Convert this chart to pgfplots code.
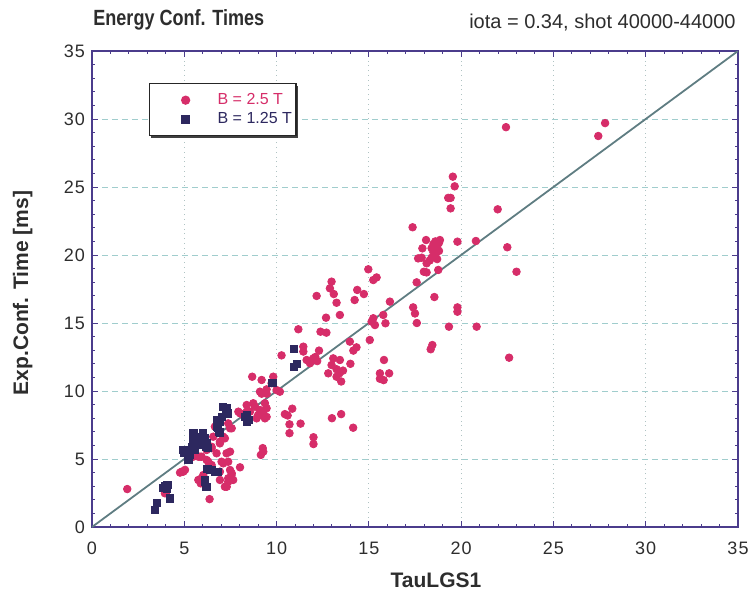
\documentclass[border=0pt]{standalone}
\usepackage{fontspec}
\setmainfont{Liberation Sans}
\newfontfamily\titlefont[FakeStretch=0.82]{Liberation Sans}
\newfontfamily\tickfont[LetterSpace=6]{Liberation Sans}
\usepackage{pgfplots}
\pgfplotsset{compat=1.18}
\usetikzlibrary{shadows}
\definecolor{axcol}{RGB}{75,60,140}
\definecolor{gridcol}{RGB}{160,205,205}
\definecolor{vgridcol}{RGB}{175,195,195}
\definecolor{redpt}{RGB}{214,45,105}
\definecolor{navypt}{RGB}{45,40,95}
\definecolor{diagcol}{RGB}{95,125,130}
\definecolor{txtcol}{RGB}{45,45,45}
\begin{document}
\begin{tikzpicture}
\begin{axis}[
  at={(0,0)}, anchor=south west,
  scale only axis, width=323pt, height=238pt,
  xmin=0, xmax=35, ymin=0, ymax=35,
  xtick={0,5,...,35}, ytick={0,5,...,35},
  minor tick num=4,
  tick align=inside,
  major tick length=3pt, minor tick length=1.5pt,
  axis line style={axcol, line width=0.9pt},
  every tick/.style={axcol, line width=0.5pt},
  grid=major,
  x grid style={vgridcol, dotted, line width=0.6pt},
  y grid style={gridcol, densely dashed, line width=0.5pt},
  ticklabel style={font=\tickfont\fontsize{9}{10}\selectfont, text=txtcol},
  xticklabel style={yshift=-4pt},
  /pgf/number format/assume math mode=true,
  legend style={at={(0.088,0.933)}, anchor=north west, draw=black!85, line width=0.8pt,
    inner xsep=0pt, inner ysep=3.5pt, font=\fontsize{8}{9}\selectfont,
    nodes={inner ysep=1.2pt},
    drop shadow={shadow xshift=0.8pt, shadow yshift=-1.2pt, fill=black!75, opacity=1},
    row sep=0pt},
  legend cell align=left,
  legend image code/.code={\pgfpathmoveto{\pgfqpoint{0pt}{0pt}}\pgfpathlineto{\pgfqpoint{32pt}{0pt}}\pgfusepath{discard}\draw[mark repeat=2, mark phase=2, #1] plot coordinates {(0pt,0pt) (18pt,0pt) (36pt,0pt)};},
]
\addplot[only marks, mark=*, mark size=1.9pt, color=redpt, mark options={draw=redpt, fill=redpt}] coordinates {
(22.43,29.4) (27.43,28.75) (27.8,29.7) (19.55,25.76) (19.65,25.05) (19.3,24.2) (19.43,24.2)
(19.43,23.43) (21.98,23.36) (17.37,22.04) (18.1,21.1) (17.9,20.49) (17.67,19.75) (17.86,19.8)
(17.98,18.77) (18.13,18.72) (17.59,17.99) (18.13,19.39) (18.76,18.9)
(18.4,20.5) (18.5,20.8) (18.6,21.0) (18.7,20.6) (18.8,20.9) (18.5,20.2) (18.6,20.0) (18.8,20.3)
(18.4,19.8) (18.3,19.6) (18.7,19.7) (18.85,21.1) (18.55,20.45)
(19.8,20.98) (20.8,21.03) (22.5,20.57) (23.0,18.77) (18.55,16.91) (17.4,16.15) (17.5,15.7)
(17.6,15.0) (19.8,16.15) (19.8,15.83) (19.34,14.73) (20.84,14.73) (18.44,13.38) (18.35,13.07)
(22.6,12.45)
(14.97,18.95) (15.24,18.16) (15.42,18.35) (12.98,18.04) (12.89,17.55) (13.1,17.13) (12.17,16.99)
(14.37,17.43) (14.73,17.13) (14.23,16.69) (13.25,16.49) (16.14,16.57) (12.68,15.39) (13.43,15.59)
(15.24,15.35) (15.33,14.85) (15.15,15.1) (15.78,15.59) (15.9,14.98) (11.18,14.54) (12.38,14.36)
(12.7,14.29) (15.05,13.75) (13.97,13.63) (14.33,13.21) (14.16,12.97) (11.45,13.26) (11.45,12.9)
(12.3,12.97) (12.1,12.5) (12.2,12.2) (10.27,12.62) (11.63,12.28) (11.99,12.4) (11.81,12.04)
(13.07,12.4) (13.43,12.28) (12.98,11.91) (15.82,12.28) (14.0,12.0) (12.8,11.3)
(13.25,11.6) (13.4,11.3) (13.25,11.05) (13.5,10.7) (13.6,11.5)
(15.6,11.3) (16.1,11.3) (15.6,10.9) (15.8,10.8)
(8.68,11.05) (9.19,10.81) (9.82,11.05) (9.73,10.57)
(9.1,9.95) (9.46,10.12) (10.0,10.07) (10.18,9.95) (9.19,9.8) (9.46,9.8)
(8.38,8.97) (8.83,8.85) (8.56,8.48) (9.0,8.24) (9.28,8.36) (9.37,7.99) (8.92,7.99) (9.46,8.73) (8.38,7.87)
(8.74,9.1) (9.1,8.6) (9.37,9.1) (9.19,8.24) (9.46,8.1) (7.93,8.48) (8.2,8.24) (8.38,8.48) (8.02,8.36)
(10.45,8.3) (10.6,8.2) (10.85,8.7) (10.7,7.55) (10.7,6.9) (11.3,7.6) (13.0,8.0) (13.5,8.3)
(14.15,7.3) (12.0,6.6) (12.0,6.1) (9.25,5.8) (9.15,5.3) (9.28,5.54)
(7.38,7.62) (7.57,7.26) (7.48,7.26) (7.2,6.52) (6.93,6.27) (6.66,7.38) (6.57,6.64)
(6.93,6.15) (7.11,6.64) (6.21,5.66) (6.48,5.9)
(6.48,5.79) (6.75,5.42) (5.94,5.17) (6.21,4.93) (5.85,5.17) (5.49,5.17)
(7.48,5.54) (7.29,5.42) (7.02,4.8) (7.38,4.8) (8.02,4.39) (7.57,3.95)
(7.11,4.68) (7.48,4.19) (6.93,4.07) (6.3,4.8) (6.48,4.56)
(7.56,3.82) (7.65,3.46) (7.38,3.33) (7.38,3.58) (6.93,3.46) (7.2,2.96) (7.3,2.96)
(6.03,3.82) (5.76,3.46) (5.89,3.21) (5.94,3.58)
(4.86,4.07) (5.04,4.2) (4.77,4.0) (4.95,4.07)
(6.37,2.05) (3.95,2.48) (4.0,2.5) (5.49,5.29) (5.76,5.17) (1.91,2.79)
};
\addlegendentry{\textcolor{redpt}{B = 2.5 T}}
\addplot[only marks, mark=square*, mark size=1.8pt, color=navypt, mark options={draw=navypt, fill=navypt}] coordinates {
(3.4,1.25) (3.5,1.75) (4.2,2.1) (3.95,3.0) (4.08,3.1) (3.86,2.85) (4.05,2.84)
(4.98,5.49) (4.95,5.66) (5.22,4.93) (5.31,5.29) (5.58,6.03) (5.85,6.03)
(5.49,6.89) (5.45,6.52) (6.03,6.89) (6.12,6.52) (6.2,6.15) (6.3,5.79)
(5.49,6.4) (5.67,6.15) (5.85,6.64) (6.12,6.4) (6.2,5.9) (5.4,5.9) (5.58,5.66)
(6.79,7.38) (6.9,7.0) (7.02,8.1) (6.93,7.74) (7.33,8.73) (7.26,8.48)
(7.11,8.85) (7.29,8.6) (7.38,8.36) (6.75,7.87) (6.84,7.26) (6.93,6.89)
(8.29,8.1) (8.38,7.74) (8.38,8.24) (8.47,7.87)
(6.21,4.3) (6.39,4.2) (6.84,4.07) (6.3,4.3) (6.48,4.19) (6.66,4.07)
(6.12,3.46) (6.21,2.96) (6.12,3.33) (6.18,2.96)
(9.8,10.6) (9.73,10.57) (10.94,13.1) (11.1,12.0) (10.96,11.8)
};
\addlegendentry{\textcolor{navypt}{B = 1.25 T}}
\addplot[diagcol, line width=0.9pt, forget plot] coordinates {(0,0) (35,35)};
\end{axis}
\node[inner sep=0pt, anchor=base west, font=\titlefont\bfseries\fontsize{11}{13}\selectfont, text=txtcol] at (0.5pt,251pt) {Energy Conf. Times};
\node[inner sep=0pt, anchor=base east, font=\fontsize{10}{12}\selectfont, text=txtcol] at (322pt,249.5pt) {iota = 0.34, shot 40000-44000};
\node[inner sep=0pt, anchor=base, font=\bfseries\fontsize{10.5}{12}\selectfont, text=txtcol] at (172pt,-30pt) {TauLGS1};
\node[inner sep=0pt, anchor=base, rotate=90, font=\bfseries\fontsize{10.5}{12}\selectfont, text=txtcol] at (-32pt,117pt) {Exp.Conf. Time [ms]};
\pgfresetboundingbox
\path[use as bounding box] (-46pt,-32pt) rectangle (330pt,263.5pt);
\end{tikzpicture}
\end{document}
